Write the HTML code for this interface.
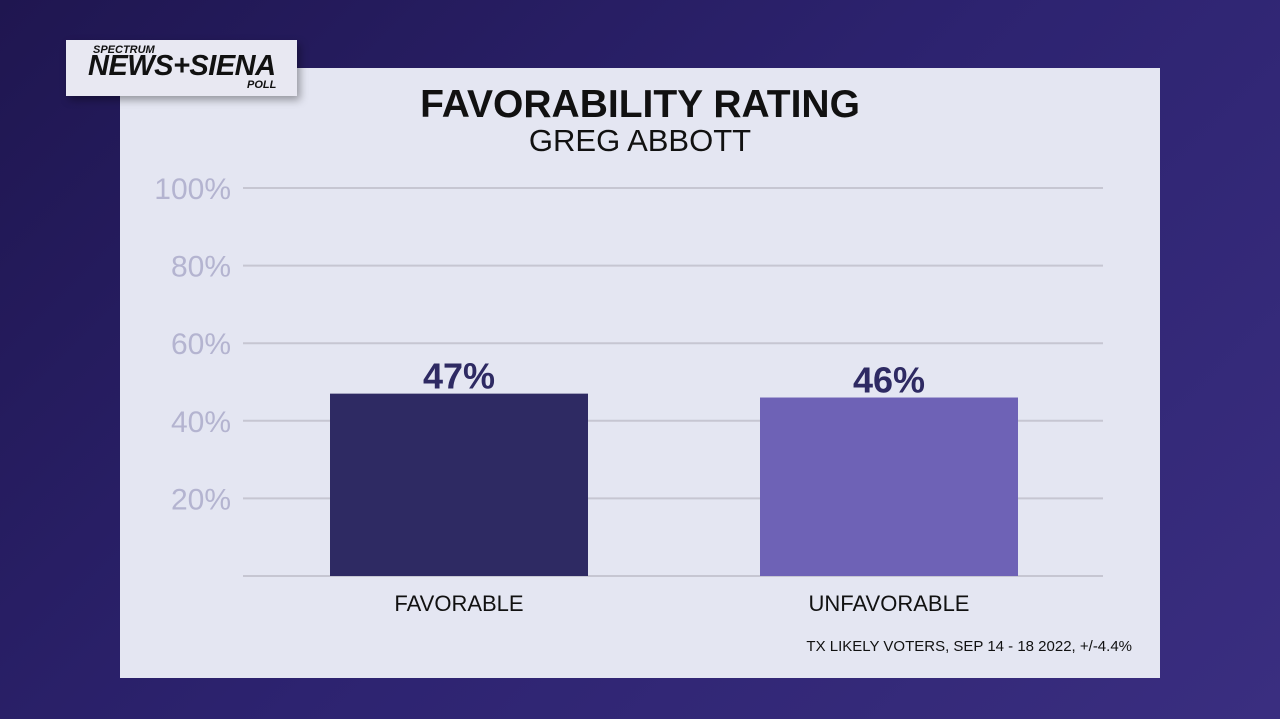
<!DOCTYPE html>
<html><head><meta charset="utf-8"><style>
body{margin:0;width:1280px;height:719px;overflow:hidden;background:linear-gradient(135deg,#1f1650 0%,#2d2370 50%,#3a2e80 100%);font-family:"Liberation Sans",sans-serif;position:relative}
#panel{position:absolute;left:120px;top:68px;width:1040px;height:610px;background:#e4e6f2}
#logo{position:absolute;left:66px;top:40px;width:231px;height:56px;background:#e8e8f2;box-shadow:3px 4px 8px rgba(0,0,0,.35)}
.t{position:absolute;white-space:nowrap}
</style></head><body>
<div id="panel"></div>
<div id="logo">
 <div class="t" style="left:27px;top:4px;font-size:11px;font-weight:bold;font-style:italic;color:#111">SPECTRUM</div>
 <div class="t" style="left:22px;top:10px;font-size:29px;font-weight:bold;font-style:italic;color:#111;letter-spacing:-0.5px">NEWS+SIENA</div>
 <div class="t" style="left:181px;top:39px;font-size:11px;font-weight:bold;font-style:italic;color:#111">POLL</div>
</div>
<div class="t" style="left:0;width:1280px;text-align:center;top:83px;font-size:39px;font-weight:bold;color:#111">FAVORABILITY RATING</div>
<div class="t" style="left:0;width:1280px;text-align:center;top:123px;font-size:31px;color:#111">GREG ABBOTT</div>
<svg id="chart" width="1280" height="719" style="position:absolute;left:0;top:0"></svg>
<div class="t" style="right:148px;top:638px;font-size:15px;color:#111">TX LIKELY VOTERS, SEP 14 - 18 2022, +/-4.4%</div>
<script>
const categories=["FAVORABLE","UNFAVORABLE"];
const values=[47,46];
const valueLabels=["47%","46%"];
const ticks=[0,20,40,60,80,100];
const tickLabels=["","20%","40%","60%","80%","100%"];
const colors=["#2e2a63","#6e62b6"];
const NS="http://www.w3.org/2000/svg",svg=document.getElementById('chart');
const y=v=>576-v*3.88;
const cx=i=>459+i*430;
function mk(t,a){const e=document.createElementNS(NS,t);for(const k in a)e.setAttribute(k,a[k]);svg.appendChild(e);return e;}
ticks.forEach((t,i)=>{
 const l=mk('line',{x1:243,x2:1103,y1:y(t),y2:y(t),stroke:'#c6c6d2','stroke-width':2});
 
 
 if(tickLabels[i]){const tx=mk('text',{x:231,y:y(t)+11,'text-anchor':'end','font-size':30,fill:'#b4b4d0','font-family':'Liberation Sans, sans-serif'});tx.textContent=tickLabels[i];
 
 }
});
categories.forEach((c,i)=>{
 const r=mk('rect',{x:cx(i)-129,width:258,y:y(values[i]),height:576-y(values[i]),fill:colors[i]});
 
 
 const v=mk('text',{x:cx(i),y:y(values[i])-5,'text-anchor':'middle','font-size':36,'font-weight':'bold',fill:'#2e2a63','font-family':'Liberation Sans, sans-serif'});v.textContent=valueLabels[i];
 
 
 const l=mk('text',{x:cx(i),y:611,'text-anchor':'middle','font-size':22,fill:'#111','font-family':'Liberation Sans, sans-serif'});l.textContent=c;
 
 
});
</script>
</body></html>
